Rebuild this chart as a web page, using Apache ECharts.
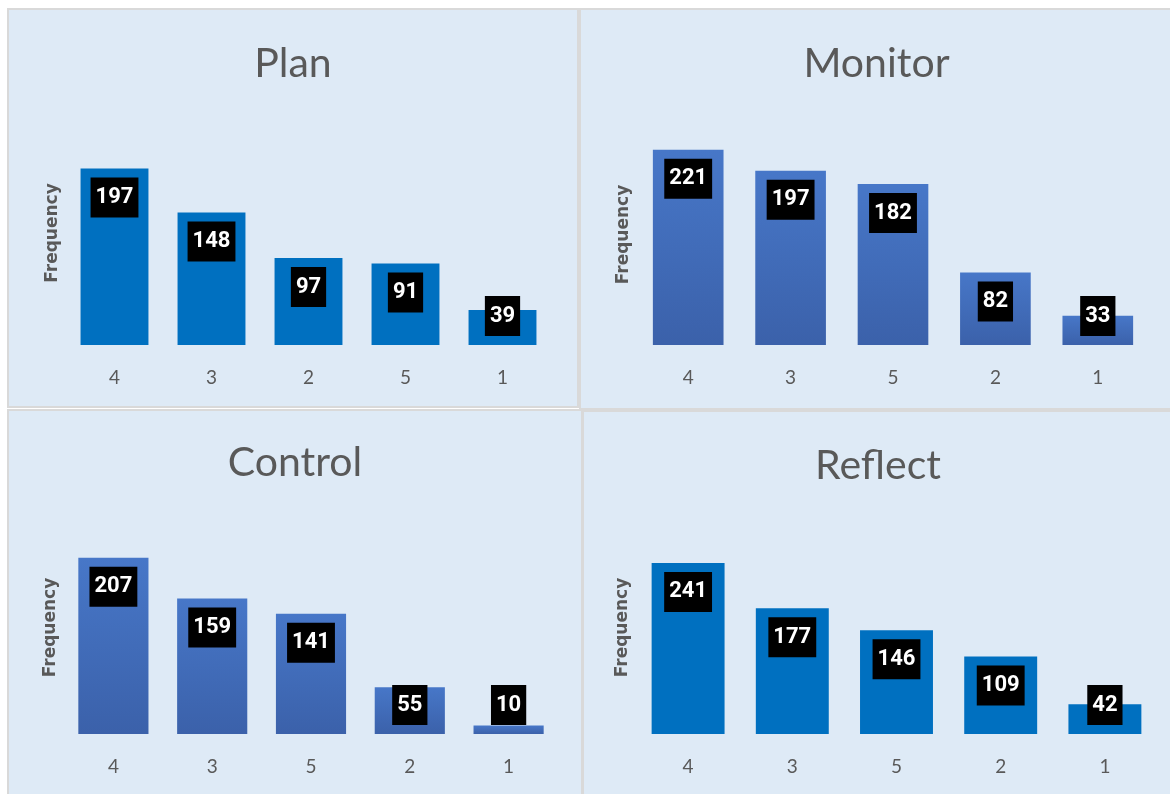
<!DOCTYPE html>
<html>
<head>
<meta charset="utf-8">
<script src="https://cdn.jsdelivr.net/npm/echarts@6/dist/echarts.min.js"></script>
<style>
  html, body { margin: 0; padding: 0; background: #ffffff; }
  body { width: 1170px; height: 794px; position: relative; overflow: hidden; }
  .panel {
    position: absolute;
    background: #deeaf6;
    border: 2px solid #d9d9d9;
    box-sizing: border-box;
  }
</style>
</head>
<body>
<div id="plan" class="panel" style="left:7px;top:8px;width:572px;height:400px;"></div>
<div id="monitor" class="panel" style="left:579px;top:8px;width:595px;height:402px;"></div>
<div id="control" class="panel" style="left:7px;top:409px;width:576px;height:392px;"></div>
<div id="reflect" class="panel" style="left:582px;top:410px;width:592px;height:392px;"></div>
<script>
// data
const planCats = ['4', '3', '2', '5', '1'];
const planVals = [197, 148, 97, 91, 39];

const monitorCats = ['4', '3', '5', '2', '1'];
const monitorVals = [221, 197, 182, 82, 33];

const controlCats = ['4', '3', '5', '2', '1'];
const controlVals = [207, 159, 141, 55, 10];

const reflectCats = ['4', '3', '5', '2', '1'];
const reflectVals = [241, 177, 146, 109, 42];

const solidBlue = '#0070c0';
const gradBlue = new echarts.graphic.LinearGradient(0, 0, 0, 1, [
  { offset: 0, color: '#4777c8' },
  { offset: 1, color: '#3b61aa' },
]);

const makeChart = (id, title, cats, vals, cfg) => {
  const node = document.getElementById(id);
  const chart = echarts.init(node);
  const h = node.clientHeight;
  const gridH = h - cfg.top - cfg.bottom;
  const boxNeed = 58; // label box + gaps, in px

  // Excel keeps the box inside the bar end; short bars push it to the bottom
  const data = vals.map(v => {
    const px = v * gridH / cfg.max;
    const small = px < boxNeed;
    return {
      value: v,
      label: {
        position: small ? 'insideBottom' : 'insideTop',
        distance: 9,
      },
    };
  });

  const option = {
    animation: false,
    title: {
      text: title,
      left: 'center',
      top: cfg.titleTop,
      textStyle: {
        fontFamily: 'Lato',
        fontWeight: 'normal',
        fontSize: 41,
        color: '#595959',
      },
    },
    grid: {
      left: cfg.left,
      width: cfg.width,
      top: cfg.top,
      bottom: cfg.bottom,
    },
    xAxis: {
      type: 'category',
      data: cats,
      axisLine: { show: false },
      axisTick: { show: false },
      axisLabel: {
        margin: 23,
        fontFamily: 'Lato',
        fontSize: 19,
        color: '#595959',
      },
    },
    yAxis: {
      type: 'value',
      min: 0,
      max: cfg.max,
      name: 'Frequency',
      nameLocation: 'middle',
      nameGap: 5,
      nameTextStyle: {
        fontFamily: 'DejaVu Sans',
        fontWeight: 'bold',
        fontSize: 17,
        color: '#595959',
      },
      axisLine: { show: false },
      axisTick: { show: false },
      axisLabel: { show: false },
      splitLine: { show: false },
    },
    series: [
      {
        type: 'bar',
        data: data,
        barCategoryGap: cfg.gap,
        itemStyle: {
          color: cfg.color,
        },
        label: {
          show: true,
          fontFamily: 'Roboto',
          fontWeight: 'bold',
          fontSize: 22,
          lineHeight: 24,
          color: '#ffffff',
          backgroundColor: '#000000',
          padding: [8, 5],
        },
      },
    ],
  };
  chart.setOption(option);
  return chart;
};

makeChart('plan', 'Plan', planCats, planVals, {
  left: 57, width: 485, top: 111, bottom: 61, max: 250, gap: '30%', titleTop: 28, color: solidBlue,
});
makeChart('monitor', 'Monitor', monitorCats, monitorVals, {
  left: 56, width: 512, top: 114, bottom: 63, max: 250, gap: '31%', titleTop: 28, color: gradBlue,
});
makeChart('control', 'Control', controlCats, controlVals, {
  left: 55, width: 494, top: 110, bottom: 65, max: 250, gap: '29%', titleTop: 26, color: gradBlue,
});
makeChart('reflect', 'Reflect', reflectCats, reflectVals, {
  left: 52, width: 521, top: 109, bottom: 66, max: 300, gap: '30%', titleTop: 28, color: solidBlue,
});
</script>
</body>
</html>
